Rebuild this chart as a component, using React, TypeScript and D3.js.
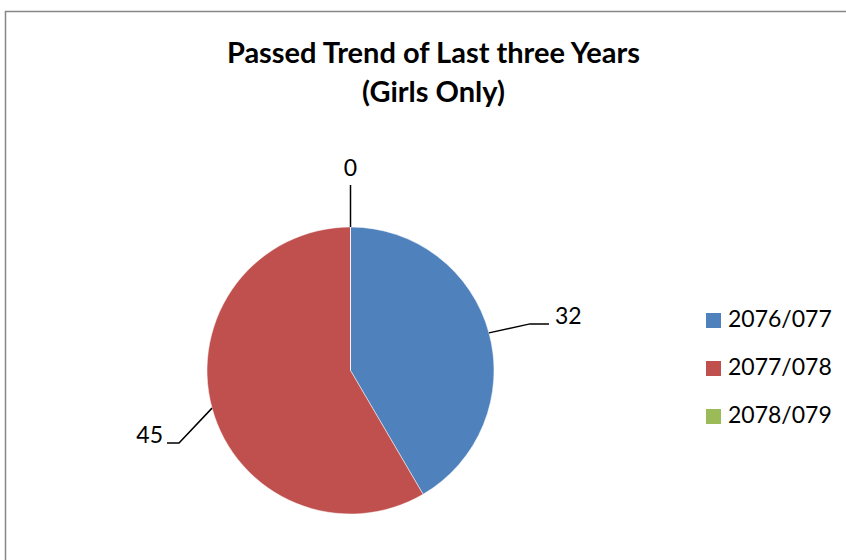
import React from "react";
import * as d3 from "d3";

const categories = ["2076/077", "2077/078", "2078/079"];
const passedValues = [32, 45, 0];
const sliceColors = ["#4F81BD", "#C0504D", "#9BBB59"];
const titleLines = ["Passed Trend of Last three Years", "(Girls Only)"];

const W = 846;
const H = 560;
const cx = 350.5;
const cy = 370.5;
const radius = 143.5;
const FONT = "Lato, 'Open Sans', sans-serif";

export default function App() {
  const pie = d3.pie<number>().sort(null).value((d) => d);
  const slices = pie(passedValues);
  const arc = d3.arc<d3.PieArcDatum<number>>().innerRadius(0).outerRadius(radius);

  // leader lines: start on the rim at the mid angle, bend, then a short horizontal tail
  const leaders = slices.map((s) => {
    const mid = (s.startAngle + s.endAngle) / 2;
    const px = Math.sin(mid) * radius;
    const py = -Math.cos(mid) * radius;
    if (s.value === 0) {
      const top = -radius - 42;
      return {
        path: `M${px},${py}L${px},${top}`,
        tx: px,
        ty: top - 15,
        anchor: "middle",
        label: String(s.value),
      };
    }
    const right = px > 0;
    const bx = px + (right ? 41 : -33);
    const by = py + (right ? -9 : 35);
    const ex = bx + (right ? 19 : -12);
    return {
      path: `M${px},${py}L${bx},${by}L${ex},${by}`,
      tx: ex + (right ? 6 : -4),
      ty: by - 6,
      anchor: right ? "start" : "end",
      label: String(s.value),
    };
  });

  return (
    <svg width={W} height={H} style={{ position: "absolute", left: 0, top: 0 }}>
      <rect x={0} y={0} width={W} height={H} fill="#fff" />
      <rect x={5.5} y={11.5} width={W + 20} height={H + 20} fill="none" stroke="#868686" strokeWidth={1.5} />
      <g fontFamily={FONT} fontWeight="bold" fontSize={29} textAnchor="middle" fill="#000">
        {titleLines.map((t, i) => (
          <text key={i} x={433.5} y={63 + i * 39}>
            {t}
          </text>
        ))}
      </g>
      <g transform={`translate(${cx},${cy})`}>
        {slices.map((s, i) => (
          <path key={i} d={arc(s) || ""} fill={sliceColors[i]} stroke="#fff" strokeWidth={0.5} />
        ))}
        {leaders.map((l, i) => (
          <g key={i}>
            <path d={l.path} fill="none" stroke="#000" strokeWidth={1.5} />
            <text x={l.tx} y={l.ty} textAnchor={l.anchor as any} dominantBaseline="middle"
              fontFamily={FONT} fontSize={23} fill="#000">
              {l.label}
            </text>
          </g>
        ))}
      </g>
      <g fontFamily={FONT} fontSize={23} fill="#000">
        {categories.map((c, i) => (
          <g key={c} transform={`translate(706,${313 + i * 48})`}>
            <rect x={0} y={0} width={15} height={15} fill={sliceColors[i]} />
            <text x={22} y={8} dominantBaseline="middle">
              {c}
            </text>
          </g>
        ))}
      </g>
    </svg>
  );
}
